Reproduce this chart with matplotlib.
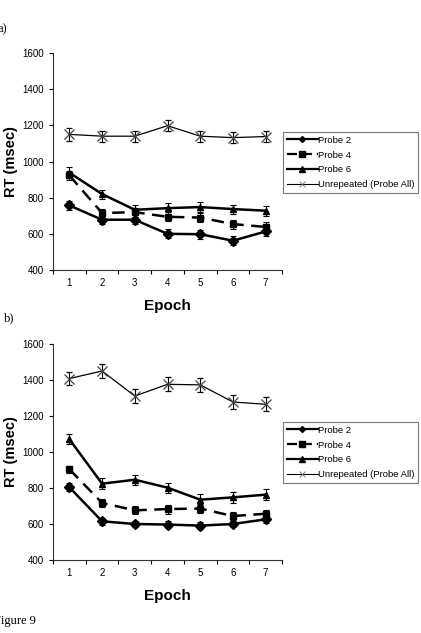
import matplotlib
matplotlib.use("Agg")
import matplotlib.pyplot as plt
from matplotlib.ticker import FixedLocator
from matplotlib.lines import Line2D

plt.rcParams['font.family'] = ['Liberation Sans', 'DejaVu Sans']

epochs = [1, 2, 3, 4, 5, 6, 7]
series_names = ["Probe 2", "Probe 4", "Probe 6", "Unrepeated (Probe All)"]

# Panel a
a_probe2 = [757, 678, 678, 600, 598, 562, 613]
a_probe4 = [923, 715, 720, 694, 690, 654, 638]
a_probe6 = [938, 820, 733, 742, 748, 737, 728]
a_unrep = [1150, 1140, 1140, 1198, 1140, 1132, 1138]
a_err2 = [25, 25, 25, 25, 25, 25, 25]
a_err4 = [25, 25, 25, 25, 25, 25, 25]
a_err6 = [30, 25, 25, 30, 28, 25, 28]
a_err_u = [35, 30, 30, 30, 30, 30, 30]

# Panel b
b_probe2 = [804, 615, 600, 597, 591, 600, 626]
b_probe4 = [904, 717, 676, 683, 686, 644, 657]
b_probe6 = [1071, 824, 846, 802, 735, 748, 763]
b_unrep = [1408, 1450, 1311, 1376, 1373, 1278, 1265]
b_err2 = [22, 18, 18, 18, 18, 18, 18]
b_err4 = [20, 22, 22, 25, 25, 20, 20]
b_err6 = [28, 30, 28, 28, 30, 30, 30]
b_err_u = [38, 38, 38, 38, 38, 38, 38]

W, H = 421, 633
fig = plt.figure(figsize=(W / 100, H / 100), dpi=100)

styles = {
    "Probe 2": dict(lw=1.8, marker='D', ms=5, ls='-'),
    "Probe 4": dict(lw=1.8, marker='s', ms=5, ls=(0, (5, 3))),
    "Probe 6": dict(lw=1.8, marker='^', ms=5, ls='-'),
    "Unrepeated (Probe All)": dict(lw=0.9, marker='x', ms=7, mew=0.9, ls='-', mec='#444444'),
}
leg_styles = {
    "Probe 2": dict(lw=1.6, marker='D', ms=3, ls='-'),
    "Probe 4": dict(lw=1.6, marker='s', ms=4, ls=(0, (4.5, 2.2))),
    "Probe 6": dict(lw=1.6, marker='^', ms=4, ls='-'),
    "Unrepeated (Probe All)": dict(lw=0.8, marker='x', ms=5, mew=0.6, ls='-', mec='#777777'),
}


def panel(rect, p2, p4, p6, pu, e2, e4, e6, eu, legrect):
    ax = fig.add_axes(rect)
    ebkw = dict(ecolor='black', elinewidth=0.8, capsize=2.5, capthick=0.8)
    for name, vals, errs in [(series_names[3], pu, eu), (series_names[2], p6, e6),
                             (series_names[1], p4, e4), (series_names[0], p2, e2)]:
        ax.errorbar(epochs, vals, yerr=errs, color='black', **styles[name], **ebkw)
    ax.set_xlim(0.5, 7.5)
    ax.set_ylim(400, 1600)
    ax.set_yticks([400, 600, 800, 1000, 1200, 1400, 1600])
    ax.set_xticks(epochs)
    ax.xaxis.set_minor_locator(FixedLocator([0.5 + i for i in range(8)]))
    ax.tick_params(axis='x', which='major', length=0, labelsize=7, pad=6)
    ax.tick_params(axis='x', which='minor', length=3, direction='out', width=0.8)
    ax.tick_params(axis='y', length=3, direction='out', labelsize=7, width=0.8)
    for s in ['top', 'right']:
        ax.spines[s].set_visible(False)
    for s in ['left', 'bottom']:
        ax.spines[s].set_linewidth(0.8)
        ax.spines[s].set_color('#333333')
    ax.set_ylabel("RT (msec)", fontsize=10.5, fontweight='bold')
    ax.yaxis.set_label_coords(-0.155, 0.5)
    ax.set_xlabel("Epoch", fontsize=11, fontweight='bold', labelpad=8)
    handles = [Line2D([], [], color='black', **leg_styles[n]) for n in series_names]
    leg = fig.legend(handles, series_names,
                     loc='upper left', bbox_to_anchor=legrect,
                     fontsize=6.8, frameon=True, fancybox=False,
                     handlelength=3.3, handletextpad=0.0, borderpad=0.4,
                     labelspacing=0.62, borderaxespad=0.0)
    leg.get_frame().set_edgecolor('#555555')
    leg.get_frame().set_linewidth(0.8)
    return ax


panel([53 / W, 1 - 270 / H, 229 / W, 217 / H],
      a_probe2, a_probe4, a_probe6, a_unrep,
      a_err2, a_err4, a_err6, a_err_u, (283 / W, 1 - 132 / H))
panel([53 / W, 1 - 560 / H, 229 / W, 216 / H],
      b_probe2, b_probe4, b_probe6, b_unrep,
      b_err2, b_err4, b_err6, b_err_u, (283 / W, 1 - 422 / H))

fig.text(-3 / W, 1 - 29 / H, "a)", fontsize=9, family='Liberation Serif', va='center')
fig.text(4 / W, 1 - 318 / H, "b)", fontsize=9, family='Liberation Serif', va='center')
fig.text(-6 / W, 1 - 621 / H, "Figure 9", fontsize=9, family='Liberation Serif', va='center')

fig.savefig("out.png", dpi=100)
